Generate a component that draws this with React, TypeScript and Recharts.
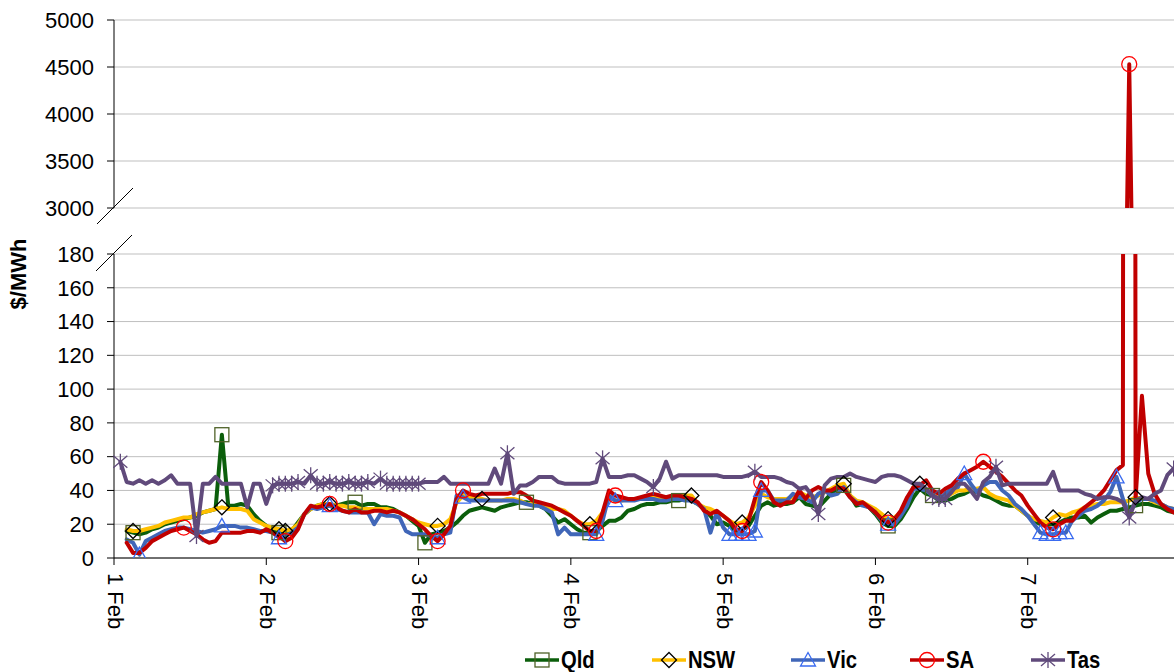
import React from "react";
import { LineChart, Line, XAxis, YAxis, CartesianGrid } from "recharts";

// hourly spot prices, $/MWh, 1 Feb 00:00 .. 7 Feb 23:00 (one row per day)
const QLD = [
  null, null, 16, 15, 14, 15, 17, 18, 20, 21, 22, 23, 24, 25, 27, 28, 29, 73, 31, 31, 32, 31, 26, 22,
  19, 16, 15, 14, 16, 21, 26, 29, 31, 32, 32, 31, 32, 33, 33, 31, 32, 32, 30, 30, 29, 27, 25, 22,
  19, 9, 14, 15, 16, 18, 21, 25, 28, 29, 30, 29, 28, 30, 31, 32, 33, 33, 32, 31, 29, 25, 21, 23,
  20, 17, 15, 15, 16, 19, 22, 22, 24, 28, 29, 31, 32, 32, 33, 33, 34, 34, 35, 34, 32, 29, 25, 20,
  21, 19, 16, 17, 19, 25, 31, 33, 31, 32, 32, 33, 36, 32, 31, 30, 34, 38, 41, 43, 37, 31, 32, 30,
  26, 21, 19, 19, 23, 29, 36, 41, 38, 37, 34, 34, 35, 37, 38, 40, 39, 37, 36, 34, 32, 31, 31, 28,
  25, 22, 20, 20, 20, 21, 23, 24, 24, 25, 21, 24, 26, 28, 28, 29, 30, 31, 32, 32, 31, 30, 28, 27,
];
const NSW = [
  null, null, 17, 16, 16, 17, 18, 19, 21, 22, 23, 24, 24, 26, 27, 28, 29, 30, 29, 29, 29, 28, 23, 21,
  19, 18, 17, 16, 17, 20, 26, 29, 31, 32, 32, 31, 31, 30, 30, 29, 29, 29, 29, 29, 28, 27, 25, 23,
  21, 20, 19, 19, 20, 23, 33, 37, 36, 36, 35, 34, 34, 34, 35, 35, 34, 32, 32, 31, 30, 29, 29, 28,
  25, 22, 20, 20, 22, 27, 36, 34, 34, 35, 35, 35, 35, 36, 36, 36, 36, 36, 37, 37, 32, 30, 29, 27,
  25, 22, 20, 21, 24, 31, 38, 36, 35, 35, 35, 36, 39, 37, 36, 37, 39, 41, 43, 44, 37, 34, 33, 31,
  29, 26, 23, 24, 27, 33, 42, 44, 40, 38, 35, 36, 38, 40, 40, 41, 41, 42, 38, 36, 35, 34, 31, 28,
  25, 23, 22, 21, 24, 26, 25, 27, 28, 30, 31, 32, 32, 33, 33, 33, 34, 36, 35, 35, 33, 32, 30, 29,
];
const VIC = [
  null, null, 11, 9, 2, 10, 12, 14, 16, 17, 18, 18, 17, 16, 15, 16, 17, 19, 19, 19, 18, 18, 17, 16,
  16, 15, 12, 13, 15, 18, 26, 30, 29, 30, 31, 29, 28, 27, 27, 27, 27, 20, 26, 25, 25, 24, 16, 14,
  14, 14, 13, 12, 14, 15, 37, 36, 34, 34, 34, 34, 34, 34, 34, 34, 33, 32, 31, 31, 29, 27, 14, 18,
  14, 14, 14, 14, 14, 22, 37, 34, 34, 34, 34, 35, 35, 35, 34, 34, 35, 35, 34, 34, 32, 29, 15, 27,
  18, 14, 14, 14, 14, 16, 40, 40, 34, 34, 34, 38, 36, 35, 33, 38, 40, 37, 38, 42, 36, 33, 31, 30,
  27, 22, 20, 20, 25, 31, 41, 41, 40, 37, 35, 38, 41, 42, 50, 44, 39, 43, 45, 45, 40, 37, 32, 29,
  25, 20, 15, 14, 14, 15, 15, 22, 25, 28, 29, 31, 34, 39, 48, 35, 26, 33, 35, 35, 34, 32, 30, 29,
];
const SA = [
  null, null, 9, 3, 3, 6, 10, 12, 14, 16, 17, 18, 16, 14, 11, 9, 10, 15, 15, 15, 15, 16, 16, 15,
  17, 15, 13, 10, 12, 17, 26, 31, 30, 31, 32, 30, 28, 27, 29, 27, 27, 28, 28, 27, 28, 27, 25, 23,
  20, 17, 13, 10, 14, 19, 35, 40, 38, 37, 38, 38, 38, 38, 38, 39, 39, 37, 34, 33, 32, 31, 29, 27,
  25, 22, 19, 16, 16, 27, 40, 37, 36, 35, 35, 36, 37, 38, 37, 36, 37, 37, 36, 35, 33, 28, 26, 28,
  25, 22, 17, 16, 22, 35, 45, 40, 33, 31, 33, 33, 40, 35, 40, 42, 40, 40, 42, 41, 36, 32, 33, 30,
  27, 23, 21, 23, 28, 36, 42, 43, 46, 40, 38, 41, 43, 47, 50, 52, 54, 57, 54, 51, 48, 44, 40, 37,
  31, 26, 21, 18, 17, 20, 22, 22, 27, 30, 33, 36, 40, 46, 52, 55, 4530, 35, 96, 50, 38, 32, 29, 27,
];
const TAS = [
  null, 57, 45, 44, 46, 44, 46, 44, 46, 49, 44, 44, 44, 13, 44, 44, 48, 44, 44, 44, 44, 30, 44, 44,
  32, 43, 44, 44, 44, 45, 44, 49, 44, 44, 45, 44, 44, 45, 44, 44, 45, 44, 47, 44, 44, 44, 44, 44,
  44, 45, 45, 45, 48, 44, 44, 44, 44, 44, 44, 44, 53, 44, 62, 38, 43, 43, 45, 48, 48, 48, 45, 44,
  44, 44, 44, 44, 45, 59, 48, 48, 48, 49, 49, 47, 45, 42, 47, 57, 47, 49, 49, 49, 49, 49, 49, 49,
  48, 48, 48, 48, 49, 51, 48, 48, 48, 47, 45, 44, 41, 42, 37, 26, 43, 47, 48, 48, 50, 48, 47, 46,
  45, 48, 49, 49, 48, 46, 44, 44, 41, 37, 35, 35, 39, 44, 44, 40, 35, 45, 48, 54, 43, 44, 44, 44,
  44, 44, 44, 44, 51, 40, 40, 40, 40, 38, 37, 35, 36, 36, 35, 33, 24, 34, 36, 35, 38, 40, 49, 53,
];

// hours that carry a marker symbol
const QLD_MARKS = [3, 17, 26, 38, 49, 65, 75, 89, 115, 122, 129, 161];
const NSW_MARKS = [3, 17, 26, 27, 34, 51, 58, 75, 91, 99, 115, 122, 127, 148, 161];
const VIC_MARKS = [4, 17, 26, 34, 51, 55, 76, 79, 97, 98, 99, 100, 101, 102, 122, 134, 146, 147, 148, 149, 150, 158];
const SA_MARKS = [11, 27, 34, 51, 55, 76, 79, 99, 102, 122, 137, 148, 160];
const TAS_MARKS = [
  1, 13, 25, 26, 27, 28, 29, 31, 32, 33, 34, 35, 36, 37, 38, 39, 40, 42, 43, 44, 45, 46, 47, 48,
  62, 77, 85, 101, 111, 129, 130, 131, 139, 160, 167,
];

const DAY_TICKS = [0, 24, 48, 72, 96, 120, 144];
const DAY_LABELS = ["1 Feb", "2 Feb", "3 Feb", "4 Feb", "5 Feb", "6 Feb", "7 Feb"];
const UPPER_TICKS = [3000, 3500, 4000, 4500, 5000];
const LOWER_TICKS = [0, 20, 40, 60, 80, 100, 120, 140, 160, 180];

const rows = QLD.map((_, i) => ({
  t: i,
  qld: QLD[i],
  nsw: NSW[i],
  vic: VIC[i],
  sa: SA[i],
  tas: TAS[i],
}));

type Shape = "square" | "diamond" | "triangle" | "circle" | "star";

const SERIES = [
  { key: "qld", name: "Qld", color: "#0B5E0B", shape: "square" as Shape, mark: "#4F6228", marks: QLD_MARKS },
  { key: "nsw", name: "NSW", color: "#FFC000", shape: "diamond" as Shape, mark: "#000000", marks: NSW_MARKS },
  { key: "vic", name: "Vic", color: "#4066B8", shape: "triangle" as Shape, mark: "#3A6BF0", marks: VIC_MARKS },
  { key: "sa", name: "SA", color: "#C00000", shape: "circle" as Shape, mark: "#FF0000", marks: SA_MARKS },
  { key: "tas", name: "Tas", color: "#604A7B", shape: "star" as Shape, mark: "#604A7B", marks: TAS_MARKS },
];

const W = 1180;
const FONT = "'Liberation Sans', Arial, sans-serif";

function Marker({ shape, x, y, color }: { shape: Shape; x: number; y: number; color: string }) {
  const sw = 1.3;
  if (shape === "square")
    return <rect x={x - 7} y={y - 7} width={14} height={14} fill="none" stroke={color} strokeWidth={sw} />;
  if (shape === "diamond")
    return (
      <polygon
        points={`${x},${y - 7.5} ${x + 7.5},${y} ${x},${y + 7.5} ${x - 7.5},${y}`}
        fill="none"
        stroke={color}
        strokeWidth={sw}
      />
    );
  if (shape === "triangle")
    return (
      <polygon
        points={`${x},${y - 7.5} ${x + 7.5},${y + 6} ${x - 7.5},${y + 6}`}
        fill="none"
        stroke={color}
        strokeWidth={sw}
      />
    );
  if (shape === "circle") return <circle cx={x} cy={y} r={7.5} fill="none" stroke={color} strokeWidth={sw} />;
  return (
    <g stroke={color} strokeWidth={sw}>
      <line x1={x} y1={y - 8} x2={x} y2={y + 8} />
      <line x1={x - 7} y1={y - 6} x2={x + 7} y2={y + 6} />
      <line x1={x - 7} y1={y + 6} x2={x + 7} y2={y - 6} />
    </g>
  );
}

function makeDot(shape: Shape, color: string, marks: number[]) {
  const set = new Set(marks);
  return (p: any) => {
    const { cx, cy, index } = p;
    if (!set.has(index) || cx == null || cy == null || isNaN(cy)) return <g key={`m-${index}`} />;
    return (
      <g key={`m-${index}`}>
        <Marker shape={shape} x={cx} y={cy} color={color} />
      </g>
    );
  };
}

const DayTick = (props: any) => {
  const { x, y, payload } = props;
  const label = DAY_LABELS[DAY_TICKS.indexOf(payload.value)];
  return (
    <text
      x={0}
      y={0}
      transform={`translate(${x + 1},${y + 6}) rotate(90)`}
      fontSize={22}
      fill="#000"
      dominantBaseline="central"
    >
      {label}
    </text>
  );
};

const yTick = { fill: "#000", fontSize: 22 };

function renderLines(keys: string[]) {
  return SERIES.filter((s) => keys.includes(s.key)).map((s) => (
    <Line
      key={s.key}
      dataKey={s.key}
      name={s.name}
      stroke={s.color}
      strokeWidth={4}
      strokeLinejoin="round"
      strokeLinecap="round"
      dot={makeDot(s.shape, s.mark, s.marks)}
      activeDot={false}
      isAnimationActive={false}
    />
  ));
}

export default function App() {
  return (
    <div
      style={{
        position: "fixed",
        left: 0,
        top: 0,
        width: 1174,
        height: 672,
        overflow: "hidden",
        background: "#fff",
        fontFamily: FONT,
      }}
    >
      {/* upper panel: 3000 - 5000 */}
      <div style={{ position: "absolute", left: 0, top: 0 }}>
        <LineChart width={W} height={232} data={rows} margin={{ top: 20, right: 0, bottom: 24, left: 0 }}>
          <CartesianGrid vertical={false} stroke="#BFBFBF" />
          <XAxis type="number" dataKey="t" domain={[0, 168]} hide />
          <YAxis
            domain={[3000, 5000]}
            ticks={UPPER_TICKS}
            interval={0}
            allowDataOverflow
            width={114}
            tickSize={7}
            tickMargin={13}
            tick={yTick}
            axisLine={{ stroke: "#000" }}
            tickLine={{ stroke: "#000" }}
          />
          {renderLines(["sa"])}
        </LineChart>
      </div>

      {/* lower panel: 0 - 180 */}
      <div style={{ position: "absolute", left: 0, top: 0 }}>
        <LineChart width={W} height={672} data={rows} margin={{ top: 254, right: 0, bottom: 14, left: 0 }}>
          <CartesianGrid vertical={false} stroke="#BFBFBF" />
          <XAxis
            type="number"
            dataKey="t"
            domain={[0, 168]}
            ticks={DAY_TICKS}
            interval={0}
            height={100}
            tickSize={7}
            tick={<DayTick />}
            axisLine={{ stroke: "#000" }}
            tickLine={{ stroke: "#000" }}
          />
          <YAxis
            domain={[0, 180]}
            ticks={LOWER_TICKS}
            interval={0}
            allowDataOverflow
            width={114}
            tickSize={7}
            tickMargin={13}
            tick={yTick}
            axisLine={{ stroke: "#000" }}
            tickLine={{ stroke: "#000" }}
          />
          {renderLines(["qld", "nsw", "vic", "sa", "tas"])}
        </LineChart>
      </div>

      {/* axis break marks, axis title, legend */}
      <svg width={1174} height={672} style={{ position: "absolute", left: 0, top: 0, pointerEvents: "none" }}>
        <line x1={97} y1={224} x2={133} y2={188} stroke="#000" strokeWidth={1} />
        <line x1={96} y1={271} x2={132} y2={235} stroke="#000" strokeWidth={1} />
        <text
          transform="translate(26,274) rotate(-90)"
          textAnchor="middle"
          fontSize={22}
          fontWeight="bold"
          fill="#000"
        >
          $/MWh
        </text>
        {SERIES.map((s, i) => {
          const x0 = [525, 652, 791, 910, 1031][i];
          return (
            <g key={s.key}>
              <line x1={x0} y1={660} x2={x0 + 34} y2={660} stroke={s.color} strokeWidth={3.5} />
              <Marker shape={s.shape} x={x0 + 17} y={660} color={s.mark} />
              <text
                transform={`translate(${x0 + 36},668) scale(0.88,1)`}
                fontSize={23}
                fontWeight="bold"
                fill="#000"
              >
                {s.name}
              </text>
            </g>
          );
        })}
      </svg>
    </div>
  );
}
